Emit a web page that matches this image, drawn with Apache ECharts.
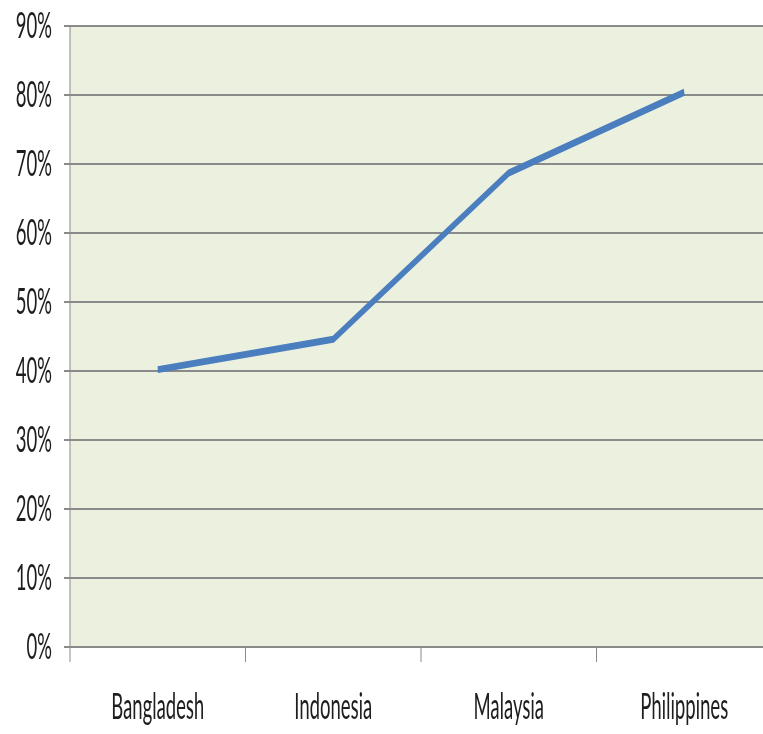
<!DOCTYPE html>
<html>
<head>
<meta charset="utf-8">
<script src="https://cdn.jsdelivr.net/npm/echarts@6/dist/echarts.min.js"></script>
<style>
  html, body { margin: 0; padding: 0; background: #ffffff; overflow: hidden; }
  #wrap { width: 763px; height: 734px; overflow: hidden; position: relative; }
  /* chart is laid out twice as wide, then condensed horizontally */
  #chart { width: 1560px; height: 734px; transform: scaleX(0.5); transform-origin: 0 0; }
</style>
</head>
<body>
<div id="wrap"><div id="chart"></div></div>
<script>
// Share by country (percent)
const countries = ['Bangladesh', 'Indonesia', 'Malaysia', 'Philippines'];
const shareValues = [40.2, 44.6, 68.7, 80.4];
const yTicks = { min: 0, max: 90, step: 10 };

const chart = echarts.init(document.getElementById('chart'), null, { renderer: 'canvas' });
const fontFamily = 'Lato, "Liberation Sans", sans-serif';

chart.setOption({
  animation: false,
  backgroundColor: '#ffffff',
  grid: {
    left: 140,
    top: 26,
    width: 1404,
    bottom: 87,
    show: true,
    backgroundColor: '#EBF1DE',
    borderWidth: 0
  },
  xAxis: {
    type: 'category',
    data: countries,
    boundaryGap: true,
    axisLine: { show: true, lineStyle: { color: '#8a8a8a', width: 2 } },
    axisTick: { show: true, alignWithLabel: false, length: 15, lineStyle: { color: '#8a8a8a', width: 2 } },
    axisLabel: { color: '#1e1e1e', fontFamily: fontFamily, fontSize: 37, margin: 42 },
    splitLine: { show: false }
  },
  yAxis: {
    type: 'value',
    min: yTicks.min,
    max: yTicks.max,
    interval: yTicks.step,
    axisLine: { show: true, lineStyle: { color: '#8a8a8a', width: 2 } },
    axisTick: { show: true, length: 12, lineStyle: { color: '#8a8a8a', width: 2 } },
    axisLabel: { color: '#1e1e1e', fontFamily: fontFamily, fontSize: 37, margin: 36, formatter: '{value}%' },
    splitLine: { show: true, lineStyle: { color: '#8a8a8a', width: 2 } }
  },
  series: [{
    type: 'line',
    data: shareValues,
    symbol: 'none',
    lineStyle: { color: '#4A7EBF', width: 7, cap: 'butt', join: 'round' },
    z: 5
  }]
});
</script>
</body>
</html>
